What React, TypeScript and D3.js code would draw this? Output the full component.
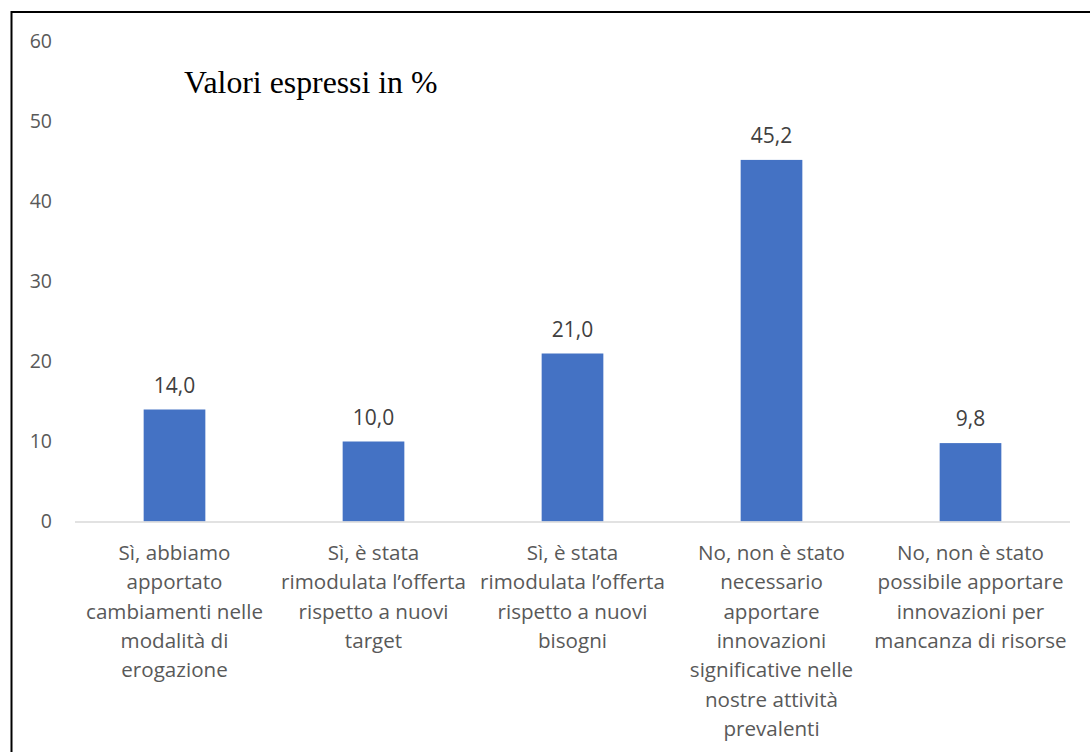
import React from "react";
import * as d3 from "d3";

// Category labels, already broken into the lines they are shown on
const categories: string[][] = [
  ["Sì, abbiamo", "apportato", "cambiamenti nelle", "modalità di", "erogazione"],
  ["Sì, è stata", "rimodulata l’offerta", "rispetto a nuovi", "target"],
  ["Sì, è stata", "rimodulata l’offerta", "rispetto a nuovi", "bisogni"],
  [
    "No, non è stato",
    "necessario",
    "apportare",
    "innovazioni",
    "significative nelle",
    "nostre attività",
    "prevalenti",
  ],
  ["No, non è stato", "possibile apportare", "innovazioni per", "mancanza di risorse"],
];

// Percentages for each answer
const values: number[] = [14.0, 10.0, 21.0, 45.2, 9.8];

// Y axis ticks
const yTicks: number[] = [0, 10, 20, 30, 40, 50, 60];

const title = "Valori espressi in %";

const W = 1090;
const H = 752;
const plotLeft = 75;
const plotRight = 1070;
const plotTop = 41.5;
const plotBottom = 521.5;

const SANS = "'Open Sans', 'Noto Sans', sans-serif";

const fmt = (v: number) => d3.format(".1f")(v).replace(".", ",");

export default function App() {
  const x = d3
    .scaleBand<number>()
    .domain(d3.range(categories.length))
    .range([plotLeft, plotRight])
    .paddingInner(0.69)
    .paddingOuter(0.345);

  const y = d3.scaleLinear().domain([0, 60]).range([plotBottom, plotTop]);

  const lineH = 29.3;

  return (
    <svg
      width={W}
      height={H}
      style={{ position: "absolute", left: 0, top: 0, background: "#fff" }}
    >
      <rect x={0} y={0} width={W} height={H} fill="#fff" />
      {/* frame: top and left edges */}
      <path d={`M11.5,${H + 2} V12 H${W + 2}`} fill="none" stroke="#000" strokeWidth={2} />

      {/* y tick labels */}
      {yTicks.map((t) => (
        <text
          key={t}
          x={52}
          y={y(t)}
          dy="0.35em"
          textAnchor="end"
          fontFamily={SANS}
          fontSize={19.5}
          fill="#595959"
        >
          {t}
        </text>
      ))}

      {/* bars */}
      {values.map((v, i) => (
        <rect
          key={i}
          x={x(i)!}
          y={y(v)}
          width={x.bandwidth()}
          height={y(0) - y(v)}
          fill="#4472C4"
        />
      ))}

      {/* baseline */}
      <line
        x1={plotLeft}
        x2={plotRight}
        y1={y(0) + 0.5}
        y2={y(0) + 0.5}
        stroke="#d9d9d9"
        strokeWidth={1.5}
      />

      {/* value labels */}
      {values.map((v, i) => (
        <text
          key={i}
          x={x(i)! + x.bandwidth() / 2}
          y={y(v) - 17}
          textAnchor="middle"
          fontFamily={SANS}
          fontSize={21}
          fill="#404040"
        >
          {fmt(v)}
        </text>
      ))}

      {/* category labels */}
      {categories.map((lines, i) => (
        <text
          key={i}
          x={x(i)! + x.bandwidth() / 2}
          y={560}
          textAnchor="middle"
          fontFamily={SANS}
          fontSize={20.6}
          fill="#595959"
        >
          {lines.map((l, j) => (
            <tspan key={j} x={x(i)! + x.bandwidth() / 2} y={560 + j * lineH}>
              {l}
            </tspan>
          ))}
        </text>
      ))}

      {/* title */}
      <text
        x={184}
        y={93}
        fontFamily="'Liberation Serif', 'DejaVu Serif', serif"
        fontSize={31.8}
        fill="#000"
      >
        {title}
      </text>
    </svg>
  );
}
